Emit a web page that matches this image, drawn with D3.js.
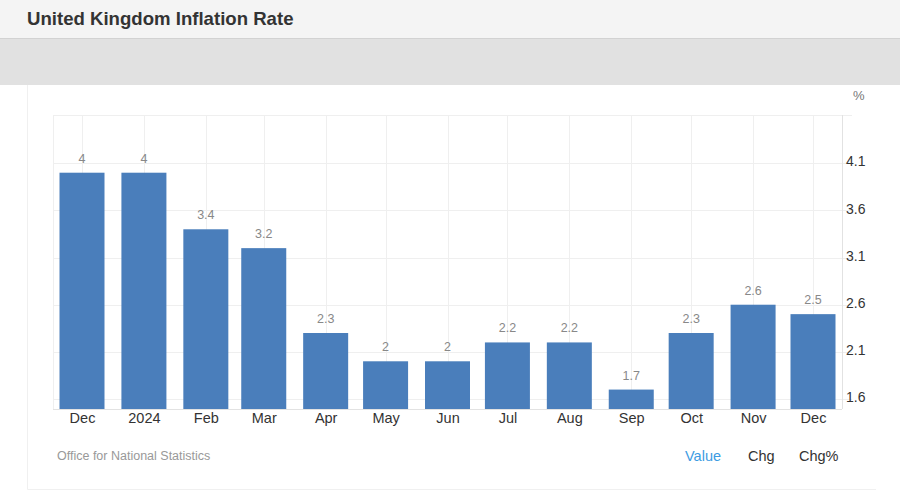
<!DOCTYPE html>
<html>
<head>
<meta charset="utf-8">
<script src="https://cdn.jsdelivr.net/npm/d3@7"></script>
<style>
  html, body { margin: 0; padding: 0; background: #fff; }
  svg { display: block; font-family: "Liberation Sans", Arial, sans-serif; }
</style>
</head>
<body>
<svg id="chart" width="900" height="503"></svg>
<script>
const months = ["2023-12-01","2024-01-01","2024-02-01","2024-03-01","2024-04-01","2024-05-01","2024-06-01","2024-07-01","2024-08-01","2024-09-01","2024-10-01","2024-11-01","2024-12-01"];
const monthLabels = ["Dec","2024","Feb","Mar","Apr","May","Jun","Jul","Aug","Sep","Oct","Nov","Dec"];
const values = [4, 4, 3.4, 3.2, 2.3, 2, 2, 2.2, 2.2, 1.7, 2.3, 2.6, 2.5];
const yTicks = [1.6, 2.1, 2.6, 3.1, 3.6, 4.1];
const title = "United Kingdom Inflation Rate";
const source = "Office for National Statistics";
const toggles = ["Value", "Chg", "Chg%"];

(function () {
const parse = d3.utcParse("%Y-%m-%d");
const dates = months.map(parse);

const svg = d3.select("#chart");

// header bands
svg.append("rect").attr("x",0).attr("y",0).attr("width",900).attr("height",38).attr("fill","#f4f4f4");
svg.append("rect").attr("x",0).attr("y",38).attr("width",900).attr("height",47).attr("fill","#e1e1e1");
svg.append("line").attr("x1",0).attr("x2",900).attr("y1",38.5).attr("y2",38.5).attr("stroke","#d2d2d2");
svg.append("text").attr("x",27).attr("y",25).attr("font-size",18.6).attr("font-weight","bold")
  .attr("fill","#333").text(title);

// card border
svg.append("path").attr("d","M27.5,85 V489.5 H876").attr("fill","none").attr("stroke","#f0f0f0");

// scales
const pLeft = 53, pRight = 842, pTop = 115, pBottom = 409;
const x = d3.scaleUtc().domain([dates[0], dates[dates.length-1]]).range([82, 813]);
const y = d3.scaleLinear().domain([1.494, 4.612]).range([pBottom, pTop]);
const barW = 45;

// grid
const grid = svg.append("g").attr("stroke","#efefef").attr("stroke-width",1);
grid.selectAll("line.h").data(yTicks).join("line")
  .attr("x1",pLeft).attr("x2",852)
  .attr("y1",d=>Math.round(y(d))+0.5).attr("y2",d=>Math.round(y(d))+0.5);
grid.append("line").attr("x1",pLeft).attr("x2",852).attr("y1",pTop+0.5).attr("y2",pTop+0.5);
grid.selectAll("line.v").data(dates).join("line")
  .attr("x1",d=>Math.round(x(d))+0.5).attr("x2",d=>Math.round(x(d))+0.5)
  .attr("y1",pTop).attr("y2",pBottom);
grid.append("line").attr("x1",pLeft+0.5).attr("x2",pLeft+0.5).attr("y1",pTop).attr("y2",pBottom);
grid.append("line").attr("x1",pRight+0.5).attr("x2",pRight+0.5).attr("y1",pTop).attr("y2",pBottom).attr("stroke","#e2e2e2");
grid.append("line").attr("x1",pLeft).attr("x2",pRight).attr("y1",pBottom+0.5).attr("y2",pBottom+0.5).attr("stroke","#e2e2e2");

// bars
svg.append("g").selectAll("rect").data(values).join("rect")
  .attr("x",(d,i)=>x(dates[i]) - barW/2)
  .attr("y",d=>y(d))
  .attr("width",barW)
  .attr("height",d=>pBottom - y(d))
  .attr("fill","#4a7ebb");

// value labels
svg.append("g").selectAll("text").data(values).join("text")
  .attr("x",(d,i)=>x(dates[i]))
  .attr("y",d=>y(d) - 10)
  .attr("text-anchor","middle")
  .attr("font-size",12.5)
  .attr("fill","#888")
  .text(d=>d);

// x axis
const xAxis = d3.axisBottom(x).tickValues(dates).tickSize(0).tickPadding(0)
  .tickFormat((d,i)=>monthLabels[i]);
const gx = svg.append("g").attr("transform",`translate(0,${pBottom})`).call(xAxis);
gx.select(".domain").remove();
gx.attr("font-family",null).attr("font-size",null);
gx.selectAll("text").attr("font-size",14.5).attr("fill","#333").attr("dy",null).attr("y",14);

// y axis
const yAxis = d3.axisRight(y).tickValues(yTicks).tickSize(0).tickPadding(0).tickFormat(d3.format(".1f"));
const gy = svg.append("g").attr("transform",`translate(846,-1.5)`).call(yAxis);
gy.select(".domain").remove();
gy.attr("font-family",null).attr("font-size",null);
gy.selectAll("text").attr("font-size",14).attr("fill","#333").attr("dy","0.3em");

svg.append("text").attr("x",853).attr("y",100).attr("font-size",13).attr("fill","#777").text("%");

// footer
svg.append("text").attr("x",57).attr("y",460).attr("font-size",12.5).attr("fill","#999").text(source);
const tx = [685, 748, 799];
svg.append("g").selectAll("text").data(toggles).join("text")
  .attr("x",(d,i)=>tx[i]).attr("y",461)
  .attr("font-size",14.5)
  .attr("fill",(d,i)=> i===0 ? "#3d9be2" : "#333")
  .text(d=>d);
})();
</script>
</body>
</html>
